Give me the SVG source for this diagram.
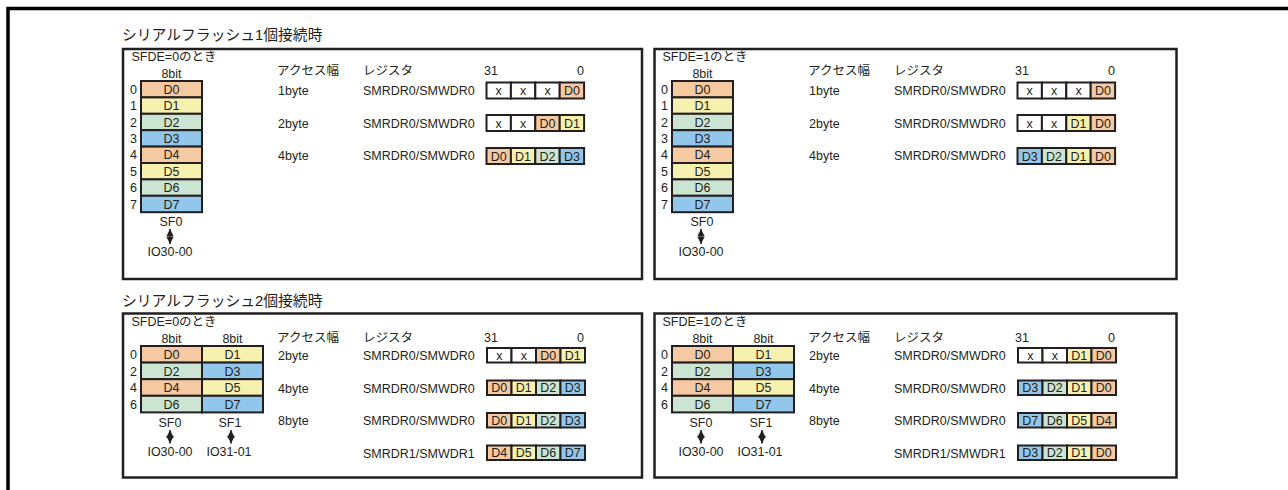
<svg xmlns="http://www.w3.org/2000/svg" width="1288" height="490" viewBox="0 0 1288 490">
<style>
text{font-family:"Liberation Sans","Noto Sans CJK JP",sans-serif;font-size:12.5px;fill:#231f20}
.t{font-size:14.8px}
.m{text-anchor:middle}
.e{text-anchor:end}
.pnl{fill:#fff;stroke:#231f20;stroke-width:2.5}
.c{stroke:#231f20;stroke-width:2}
.o{fill:#f5c9a2}.y{fill:#f6f1ae}.g{fill:#cce5d3}.b{fill:#92c7eb}.w{fill:#fff}
.arr{stroke:#231f20;stroke-width:1.5;fill:none}
</style>
<defs>
<marker id="ah" viewBox="0 0 10 10" refX="10" refY="5" markerWidth="7.5" markerHeight="8" markerUnits="userSpaceOnUse" orient="auto-start-reverse"><path d="M0,0 L10,5 L0,10 z" fill="#231f20"/></marker>
<g id="reg-hdr"><text x="277" y="0">アクセス幅</text><text x="363" y="0">レジスタ</text><text x="484" y="0">31</text><text x="584" y="0" class="e">0</text></g>
</defs>
<path d="M8,490 V8.5 H1288" fill="none" stroke="#000" stroke-width="3.5"/>
<text id="title1" class="t" x="122" y="40">シリアルフラッシュ1個接続時</text>
<text id="title2" class="t" x="122" y="306">シリアルフラッシュ2個接続時</text>

<!-- Panel 1: 1 flash, SFDE=0 -->
<g id="panel1">
<rect class="pnl" x="123" y="49" width="519" height="230"/>
<text x="131.5" y="61">SFDE=0のとき</text>
<g id="p1-mem">
<text x="171.5" y="78" class="m">8bit</text>
<rect class="c o" x="141" y="81" width="61" height="16.4"/><text x="171.5" y="93.8" class="m">D0</text>
<rect class="c y" x="141" y="97.4" width="61" height="16.4"/><text x="171.5" y="110.2" class="m">D1</text>
<rect class="c g" x="141" y="113.8" width="61" height="16.4"/><text x="171.5" y="126.6" class="m">D2</text>
<rect class="c b" x="141" y="130.2" width="61" height="16.4"/><text x="171.5" y="143" class="m">D3</text>
<rect class="c o" x="141" y="146.6" width="61" height="16.4"/><text x="171.5" y="159.4" class="m">D4</text>
<rect class="c y" x="141" y="163" width="61" height="16.4"/><text x="171.5" y="175.8" class="m">D5</text>
<rect class="c g" x="141" y="179.4" width="61" height="16.4"/><text x="171.5" y="192.2" class="m">D6</text>
<rect class="c b" x="141" y="195.8" width="61" height="16.4"/><text x="171.5" y="208.6" class="m">D7</text>
<text x="133.5" y="93.8" class="m">0</text><text x="133.5" y="110.2" class="m">1</text><text x="133.5" y="126.6" class="m">2</text><text x="133.5" y="143" class="m">3</text>
<text x="133.5" y="159.4" class="m">4</text><text x="133.5" y="175.8" class="m">5</text><text x="133.5" y="192.2" class="m">6</text><text x="133.5" y="208.6" class="m">7</text>
<text x="171" y="226" class="m">SF0</text>
<text x="170" y="256" class="m">IO30-00</text>
</g>
<use href="#reg-hdr" y="75"/>
<text x="278" y="95">1byte</text><text x="363" y="95">SMRDR0/SMWDR0</text>
<rect class="c w" x="486.5" y="82.5" width="24.4" height="16"/><text x="498.7" y="95" class="m">x</text>
<rect class="c w" x="510.9" y="82.5" width="24.4" height="16"/><text x="523.1" y="95" class="m">x</text>
<rect class="c w" x="535.3" y="82.5" width="24.4" height="16"/><text x="547.5" y="95" class="m">x</text>
<rect class="c o" x="559.7" y="82.5" width="24.4" height="16"/><text x="571.9" y="95" class="m">D0</text>
<text x="278" y="127.5">2byte</text><text x="363" y="127.5">SMRDR0/SMWDR0</text>
<rect class="c w" x="486.5" y="115" width="24.4" height="16"/><text x="498.7" y="127.5" class="m">x</text>
<rect class="c w" x="510.9" y="115" width="24.4" height="16"/><text x="523.1" y="127.5" class="m">x</text>
<rect class="c o" x="535.3" y="115" width="24.4" height="16"/><text x="547.5" y="127.5" class="m">D0</text>
<rect class="c y" x="559.7" y="115" width="24.4" height="16"/><text x="571.9" y="127.5" class="m">D1</text>
<text x="278" y="160">4byte</text><text x="363" y="160">SMRDR0/SMWDR0</text>
<rect class="c o" x="486.5" y="148" width="24.4" height="16"/><text x="498.7" y="160.5" class="m">D0</text>
<rect class="c y" x="510.9" y="148" width="24.4" height="16"/><text x="523.1" y="160.5" class="m">D1</text>
<rect class="c g" x="535.3" y="148" width="24.4" height="16"/><text x="547.5" y="160.5" class="m">D2</text>
<rect class="c b" x="559.7" y="148" width="24.4" height="16"/><text x="571.9" y="160.5" class="m">D3</text>
</g>

<!-- Panel 2: 1 flash, SFDE=1 -->
<g id="panel2">
<rect class="pnl" x="654.5" y="49" width="522" height="230"/>
<g transform="translate(531,0)">
<text x="131.5" y="61">SFDE=1のとき</text>
<g id="p2-mem">
<text x="171.5" y="78" class="m">8bit</text>
<rect class="c o" x="141" y="81" width="61" height="16.4"/><text x="171.5" y="93.8" class="m">D0</text>
<rect class="c y" x="141" y="97.4" width="61" height="16.4"/><text x="171.5" y="110.2" class="m">D1</text>
<rect class="c g" x="141" y="113.8" width="61" height="16.4"/><text x="171.5" y="126.6" class="m">D2</text>
<rect class="c b" x="141" y="130.2" width="61" height="16.4"/><text x="171.5" y="143" class="m">D3</text>
<rect class="c o" x="141" y="146.6" width="61" height="16.4"/><text x="171.5" y="159.4" class="m">D4</text>
<rect class="c y" x="141" y="163" width="61" height="16.4"/><text x="171.5" y="175.8" class="m">D5</text>
<rect class="c g" x="141" y="179.4" width="61" height="16.4"/><text x="171.5" y="192.2" class="m">D6</text>
<rect class="c b" x="141" y="195.8" width="61" height="16.4"/><text x="171.5" y="208.6" class="m">D7</text>
<text x="133.5" y="93.8" class="m">0</text><text x="133.5" y="110.2" class="m">1</text><text x="133.5" y="126.6" class="m">2</text><text x="133.5" y="143" class="m">3</text>
<text x="133.5" y="159.4" class="m">4</text><text x="133.5" y="175.8" class="m">5</text><text x="133.5" y="192.2" class="m">6</text><text x="133.5" y="208.6" class="m">7</text>
<text x="171" y="226" class="m">SF0</text>
<text x="170" y="256" class="m">IO30-00</text>
</g>
<use href="#reg-hdr" y="75"/>
<text x="278" y="95">1byte</text><text x="363" y="95">SMRDR0/SMWDR0</text>
<rect class="c w" x="486.5" y="82.5" width="24.4" height="16"/><text x="498.7" y="95" class="m">x</text>
<rect class="c w" x="510.9" y="82.5" width="24.4" height="16"/><text x="523.1" y="95" class="m">x</text>
<rect class="c w" x="535.3" y="82.5" width="24.4" height="16"/><text x="547.5" y="95" class="m">x</text>
<rect class="c o" x="559.7" y="82.5" width="24.4" height="16"/><text x="571.9" y="95" class="m">D0</text>
<text x="278" y="127.5">2byte</text><text x="363" y="127.5">SMRDR0/SMWDR0</text>
<rect class="c w" x="486.5" y="115" width="24.4" height="16"/><text x="498.7" y="127.5" class="m">x</text>
<rect class="c w" x="510.9" y="115" width="24.4" height="16"/><text x="523.1" y="127.5" class="m">x</text>
<rect class="c y" x="535.3" y="115" width="24.4" height="16"/><text x="547.5" y="127.5" class="m">D1</text>
<rect class="c o" x="559.7" y="115" width="24.4" height="16"/><text x="571.9" y="127.5" class="m">D0</text>
<text x="278" y="160">4byte</text><text x="363" y="160">SMRDR0/SMWDR0</text>
<rect class="c b" x="486.5" y="148" width="24.4" height="16"/><text x="498.7" y="160.5" class="m">D3</text>
<rect class="c g" x="510.9" y="148" width="24.4" height="16"/><text x="523.1" y="160.5" class="m">D2</text>
<rect class="c y" x="535.3" y="148" width="24.4" height="16"/><text x="547.5" y="160.5" class="m">D1</text>
<rect class="c o" x="559.7" y="148" width="24.4" height="16"/><text x="571.9" y="160.5" class="m">D0</text>
</g>
</g>

<!-- Panel 3: 2 flash, SFDE=0 -->
<g id="panel3">
<rect class="pnl" x="123" y="313.5" width="519" height="164"/>
<text x="131.5" y="326">SFDE=0のとき</text>
<g id="p3-mem">
<text x="171.5" y="343" class="m">8bit</text><text x="232.5" y="343" class="m">8bit</text>
<rect class="c o" x="141" y="346" width="61" height="16.6"/><text x="171.5" y="359" class="m">D0</text>
<rect class="c y" x="202" y="346" width="61" height="16.6"/><text x="232.5" y="359" class="m">D1</text>
<rect class="c g" x="141" y="362.6" width="61" height="16.6"/><text x="171.5" y="375.6" class="m">D2</text>
<rect class="c b" x="202" y="362.6" width="61" height="16.6"/><text x="232.5" y="375.6" class="m">D3</text>
<rect class="c o" x="141" y="379.2" width="61" height="16.6"/><text x="171.5" y="392.2" class="m">D4</text>
<rect class="c y" x="202" y="379.2" width="61" height="16.6"/><text x="232.5" y="392.2" class="m">D5</text>
<rect class="c g" x="141" y="395.8" width="61" height="16.6"/><text x="171.5" y="408.8" class="m">D6</text>
<rect class="c b" x="202" y="395.8" width="61" height="16.6"/><text x="232.5" y="408.8" class="m">D7</text>
<text x="133.5" y="359" class="m">0</text><text x="133.5" y="375.6" class="m">2</text><text x="133.5" y="392.2" class="m">4</text><text x="133.5" y="408.8" class="m">6</text>
<text x="170" y="426.5" class="m">SF0</text><text x="230" y="426.5" class="m">SF1</text>
<text x="170" y="456" class="m">IO30-00</text><text x="229" y="456" class="m">IO31-01</text>
</g>
<use href="#reg-hdr" y="341.5"/>
<text x="278" y="360">2byte</text><text x="363" y="360">SMRDR0/SMWDR0</text>
<rect class="c w" x="487" y="348" width="24.5" height="14.5"/><text x="499.25" y="359.5" class="m">x</text>
<rect class="c w" x="511.5" y="348" width="24.5" height="14.5"/><text x="523.75" y="359.5" class="m">x</text>
<rect class="c o" x="536" y="348" width="24.5" height="14.5"/><text x="548.25" y="359.5" class="m">D0</text>
<rect class="c y" x="560.5" y="348" width="24.5" height="14.5"/><text x="572.75" y="359.5" class="m">D1</text>
<text x="278" y="392.5">4byte</text><text x="363" y="392.5">SMRDR0/SMWDR0</text>
<rect class="c o" x="487" y="380.5" width="24.5" height="14.5"/><text x="499.25" y="392" class="m">D0</text>
<rect class="c y" x="511.5" y="380.5" width="24.5" height="14.5"/><text x="523.75" y="392" class="m">D1</text>
<rect class="c g" x="536" y="380.5" width="24.5" height="14.5"/><text x="548.25" y="392" class="m">D2</text>
<rect class="c b" x="560.5" y="380.5" width="24.5" height="14.5"/><text x="572.75" y="392" class="m">D3</text>
<text x="278" y="425">8byte</text><text x="363" y="425">SMRDR0/SMWDR0</text>
<rect class="c o" x="487" y="413" width="24.5" height="14.5"/><text x="499.25" y="424.5" class="m">D0</text>
<rect class="c y" x="511.5" y="413" width="24.5" height="14.5"/><text x="523.75" y="424.5" class="m">D1</text>
<rect class="c g" x="536" y="413" width="24.5" height="14.5"/><text x="548.25" y="424.5" class="m">D2</text>
<rect class="c b" x="560.5" y="413" width="24.5" height="14.5"/><text x="572.75" y="424.5" class="m">D3</text>
<text x="363" y="457.5">SMRDR1/SMWDR1</text>
<rect class="c o" x="487" y="445.5" width="24.5" height="14.5"/><text x="499.25" y="457" class="m">D4</text>
<rect class="c y" x="511.5" y="445.5" width="24.5" height="14.5"/><text x="523.75" y="457" class="m">D5</text>
<rect class="c g" x="536" y="445.5" width="24.5" height="14.5"/><text x="548.25" y="457" class="m">D6</text>
<rect class="c b" x="560.5" y="445.5" width="24.5" height="14.5"/><text x="572.75" y="457" class="m">D7</text>
</g>

<!-- Panel 4: 2 flash, SFDE=1 -->
<g id="panel4">
<rect class="pnl" x="654.5" y="313.5" width="522" height="164"/>
<g transform="translate(531,0)">
<text x="131.5" y="326">SFDE=1のとき</text>
<g id="p4-mem">
<text x="171.5" y="343" class="m">8bit</text><text x="232.5" y="343" class="m">8bit</text>
<rect class="c o" x="141" y="346" width="61" height="16.6"/><text x="171.5" y="359" class="m">D0</text>
<rect class="c y" x="202" y="346" width="61" height="16.6"/><text x="232.5" y="359" class="m">D1</text>
<rect class="c g" x="141" y="362.6" width="61" height="16.6"/><text x="171.5" y="375.6" class="m">D2</text>
<rect class="c b" x="202" y="362.6" width="61" height="16.6"/><text x="232.5" y="375.6" class="m">D3</text>
<rect class="c o" x="141" y="379.2" width="61" height="16.6"/><text x="171.5" y="392.2" class="m">D4</text>
<rect class="c y" x="202" y="379.2" width="61" height="16.6"/><text x="232.5" y="392.2" class="m">D5</text>
<rect class="c g" x="141" y="395.8" width="61" height="16.6"/><text x="171.5" y="408.8" class="m">D6</text>
<rect class="c b" x="202" y="395.8" width="61" height="16.6"/><text x="232.5" y="408.8" class="m">D7</text>
<text x="133.5" y="359" class="m">0</text><text x="133.5" y="375.6" class="m">2</text><text x="133.5" y="392.2" class="m">4</text><text x="133.5" y="408.8" class="m">6</text>
<text x="170" y="426.5" class="m">SF0</text><text x="230" y="426.5" class="m">SF1</text>
<text x="170" y="456" class="m">IO30-00</text><text x="229" y="456" class="m">IO31-01</text>
</g>
<use href="#reg-hdr" y="341.5"/>
<text x="278" y="360">2byte</text><text x="363" y="360">SMRDR0/SMWDR0</text>
<rect class="c w" x="487" y="348" width="24.5" height="14.5"/><text x="499.25" y="359.5" class="m">x</text>
<rect class="c w" x="511.5" y="348" width="24.5" height="14.5"/><text x="523.75" y="359.5" class="m">x</text>
<rect class="c y" x="536" y="348" width="24.5" height="14.5"/><text x="548.25" y="359.5" class="m">D1</text>
<rect class="c o" x="560.5" y="348" width="24.5" height="14.5"/><text x="572.75" y="359.5" class="m">D0</text>
<text x="278" y="392.5">4byte</text><text x="363" y="392.5">SMRDR0/SMWDR0</text>
<rect class="c b" x="487" y="380.5" width="24.5" height="14.5"/><text x="499.25" y="392" class="m">D3</text>
<rect class="c g" x="511.5" y="380.5" width="24.5" height="14.5"/><text x="523.75" y="392" class="m">D2</text>
<rect class="c y" x="536" y="380.5" width="24.5" height="14.5"/><text x="548.25" y="392" class="m">D1</text>
<rect class="c o" x="560.5" y="380.5" width="24.5" height="14.5"/><text x="572.75" y="392" class="m">D0</text>
<text x="278" y="425">8byte</text><text x="363" y="425">SMRDR0/SMWDR0</text>
<rect class="c b" x="487" y="413" width="24.5" height="14.5"/><text x="499.25" y="424.5" class="m">D7</text>
<rect class="c g" x="511.5" y="413" width="24.5" height="14.5"/><text x="523.75" y="424.5" class="m">D6</text>
<rect class="c y" x="536" y="413" width="24.5" height="14.5"/><text x="548.25" y="424.5" class="m">D5</text>
<rect class="c o" x="560.5" y="413" width="24.5" height="14.5"/><text x="572.75" y="424.5" class="m">D4</text>
<text x="363" y="457.5">SMRDR1/SMWDR1</text>
<rect class="c b" x="487" y="445.5" width="24.5" height="14.5"/><text x="499.25" y="457" class="m">D3</text>
<rect class="c g" x="511.5" y="445.5" width="24.5" height="14.5"/><text x="523.75" y="457" class="m">D2</text>
<rect class="c y" x="536" y="445.5" width="24.5" height="14.5"/><text x="548.25" y="457" class="m">D1</text>
<rect class="c o" x="560.5" y="445.5" width="24.5" height="14.5"/><text x="572.75" y="457" class="m">D0</text>
</g>
</g>

<g id="connectors" class="arr">
<line x1="170" y1="229" x2="170" y2="244" marker-start="url(#ah)" marker-end="url(#ah)"/>
<line x1="701" y1="229" x2="701" y2="244" marker-start="url(#ah)" marker-end="url(#ah)"/>
<line x1="170" y1="430" x2="170" y2="443.5" marker-start="url(#ah)" marker-end="url(#ah)"/>
<line x1="231" y1="430" x2="231" y2="443.5" marker-start="url(#ah)" marker-end="url(#ah)"/>
<line x1="701" y1="430" x2="701" y2="443.5" marker-start="url(#ah)" marker-end="url(#ah)"/>
<line x1="762" y1="430" x2="762" y2="443.5" marker-start="url(#ah)" marker-end="url(#ah)"/>
</g>
</svg>
